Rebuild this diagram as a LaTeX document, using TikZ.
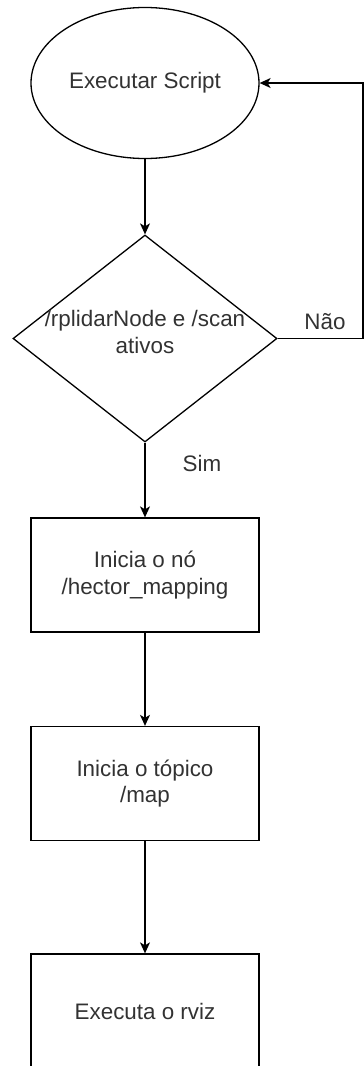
\documentclass[tikz,border=0pt]{standalone}
\usepackage{fontspec}
\setmainfont{Liberation Sans}
\usetikzlibrary{shapes.geometric,arrows.meta}
\definecolor{txt}{RGB}{50,50,50}
\begin{document}
\begin{tikzpicture}[x=1pt,y=-1pt,
  every node/.style={font=\fontsize{22.4}{26.5}\selectfont, text=txt, align=center},
  shp/.style={draw=black, line width=1.3pt, inner sep=0pt},
  box/.style={shp, rectangle, minimum width=228pt, minimum height=114pt},
  conn/.style={line width=1.3pt, -{Stealth[length=11pt,width=10pt,inset=3pt]}},
  lbl/.style={inner sep=0pt}]
\useasboundingbox (0,0) rectangle (364,1066);
\clip (0,0) rectangle (364,1066);
\node[shp, ellipse, minimum width=228pt, minimum height=151pt] (e) at (145,83) {Executar Script};
\node[shp, diamond, minimum width=264pt, minimum height=207pt] (d) at (145,338.5) {};
\node[lbl] (dt) at (145,332) {/rplidarNode e /scan\\ativos};
\node[box] (r1) at (145,575) {Inicia o nó\\/hector\_mapping};
\node[box] (r2) at (145,783.5) {Inicia o tópico\\/map};
\node[box] (r3) at (145,1011) {Executa o rviz};
\coordinate (c1) at (363,338.5);
\coordinate (c2) at (363,83);
\draw[conn] (e.south) -- (d.north);
\draw[conn] (d.south) -- (r1.north);
\draw[conn] (r1.south) -- (r2.north);
\draw[conn] (r2.south) -- (r3.north);
\draw[conn] (d.east) -- (c1) -- (c2) -- (e.east);
\node[lbl] (sim) at (202,463) {Sim};
\node[lbl] (nao) at (325,322) {Não};
\end{tikzpicture}
\end{document}
